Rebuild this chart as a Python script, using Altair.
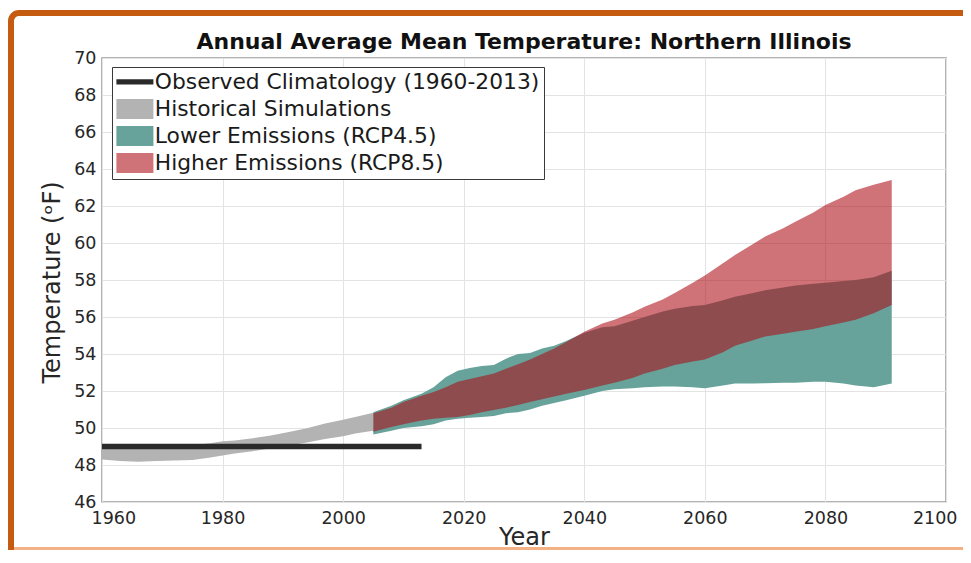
import altair as alt
import pandas as pd

# ---------------- data ----------------
title_text = "Annual Average Mean Temperature: Northern Illinois"
series_names = [
    "Observed Climatology (1960-2013)",
    "Historical Simulations",
    "Lower Emissions (RCP4.5)",
    "Higher Emissions (RCP8.5)",
]

obs_years = [1960, 2013]
obs_value = [49.0, 49.0]

hist_years = [1960, 1963, 1966, 1969, 1972, 1975, 1978, 1980, 1982, 1985,
              1988, 1991, 1994, 1997, 2000, 2002, 2005]
hist_lo = [48.30, 48.22, 48.18, 48.22, 48.25, 48.27, 48.40, 48.52, 48.62, 48.75,
           48.90, 49.05, 49.22, 49.40, 49.55, 49.70, 49.85]
hist_hi = [49.00, 48.98, 49.00, 49.02, 49.05, 49.08, 49.18, 49.28, 49.33, 49.45,
           49.60, 49.78, 49.98, 50.25, 50.45, 50.60, 50.82]

proj_years = [2005, 2008, 2010, 2013, 2015, 2017, 2019, 2021, 2023, 2025,
              2027, 2029, 2031, 2033, 2035, 2037, 2040, 2043, 2045, 2048,
              2050, 2053, 2055, 2058, 2060, 2063, 2065, 2068, 2070, 2073,
              2075, 2078, 2080, 2083, 2085, 2088, 2091]
rcp45_lo = [49.65, 49.85, 50.00, 50.10, 50.20, 50.40, 50.50, 50.55, 50.60, 50.65,
            50.80, 50.85, 51.00, 51.20, 51.35, 51.50, 51.75, 52.00, 52.10, 52.15,
            52.20, 52.25, 52.25, 52.20, 52.15, 52.30, 52.40, 52.40, 52.42, 52.45,
            52.45, 52.50, 52.50, 52.40, 52.30, 52.20, 52.40]
rcp45_hi = [50.85, 51.20, 51.50, 51.85, 52.20, 52.75, 53.10, 53.25, 53.35, 53.40,
            53.75, 54.00, 54.05, 54.30, 54.45, 54.70, 55.15, 55.45, 55.50, 55.80,
            56.00, 56.30, 56.45, 56.60, 56.65, 56.90, 57.10, 57.30, 57.45, 57.60,
            57.70, 57.80, 57.85, 57.95, 58.00, 58.15, 58.50]
rcp85_lo = [49.80, 50.05, 50.20, 50.40, 50.50, 50.55, 50.60, 50.70, 50.85, 50.97,
            51.10, 51.25, 51.40, 51.55, 51.70, 51.85, 52.05, 52.30, 52.45, 52.70,
            52.95, 53.20, 53.40, 53.60, 53.70, 54.10, 54.45, 54.75, 54.95, 55.10,
            55.20, 55.35, 55.50, 55.70, 55.85, 56.20, 56.65]
rcp85_hi = [50.80, 51.10, 51.40, 51.75, 51.95, 52.20, 52.50, 52.65, 52.80, 52.95,
            53.20, 53.45, 53.70, 54.00, 54.30, 54.65, 55.20, 55.65, 55.85, 56.25,
            56.55, 56.95, 57.30, 57.85, 58.25, 58.90, 59.35, 59.95, 60.35, 60.80,
            61.15, 61.65, 62.05, 62.50, 62.85, 63.15, 63.40]

x_ticks = [1960, 1980, 2000, 2020, 2040, 2060, 2080, 2100]
y_ticks = [46, 48, 50, 52, 54, 56, 58, 60, 62, 64, 66, 68, 70]

# ---------------- styles ----------------
FONT = "DejaVu Sans"
col_line = "#2a2a2a"
col_hist = "#b3b3b3"
col_rcp45 = "#67a39b"
col_rcp85 = "#ac0e16"
rcp85_alpha = 0.58

# ---------------- frames ----------------
obs_df = pd.DataFrame({"year": obs_years, "lo": obs_value,
                       "series": series_names[0]})
hist_df = pd.DataFrame({"year": hist_years, "lo": hist_lo, "hi": hist_hi,
                        "series": series_names[1]})
r45_df = pd.DataFrame({"year": proj_years, "lo": rcp45_lo, "hi": rcp45_hi,
                       "series": series_names[2]})
r85_df = pd.DataFrame({"year": proj_years, "lo": rcp85_lo, "hi": rcp85_hi,
                       "series": series_names[3]})

# legend symbol shapes / opacity (per entry)
rect_path = "M-1.85,-1H1.85V1H-1.85Z"
line_path = "M-1.85,-0.27H1.85V0.27H-1.85Z"
shape_expr = f"datum.value === '{series_names[0]}' ? '{line_path}' : '{rect_path}'"
opac_expr = f"datum.value === '{series_names[3]}' ? {rcp85_alpha} : 1"

legend = alt.Legend(
    title=None,
    orient="none",
    legendX=10,
    legendY=9,
    labelFont=FONT,
    labelFontSize=21.8,
    labelColor="#1a1a1a",
    labelLimit=0,
    labelOffset=9,
    symbolOffset=8,
    rowPadding=4,
    padding=4,
    strokeColor="#3a3a3a",
    fillColor="white",
    symbolType={"expr": shape_expr},
    symbolOpacity={"expr": opac_expr},
    symbolStrokeColor="transparent",
    symbolStrokeWidth=0,
    symbolSize=400,
)

color = alt.Color(
    "series:N",
    scale=alt.Scale(domain=series_names,
                    range=[col_line, col_hist, col_rcp45, col_rcp85]),
    legend=legend,
)

xenc = alt.X(
    "year:Q",
    scale=alt.Scale(domain=[1960, 2100], nice=False, zero=False),
    axis=alt.Axis(values=x_ticks, format="d", title="Year",
                  titleX=422, titleY=42, titleBaseline="alphabetic",
                  titleAnchor="middle", labelPadding=7,
                  labelFlush=True, labelFlushOffset=11),
)
yscale = alt.Scale(domain=[46, 70], nice=False, zero=False)
yaxis = alt.Axis(values=y_ticks, title="Temperature (ᵒF)",
                 titleX=-50, titleY=224, titleAngle=-90,
                 titleBaseline="middle", titleAlign="center",
                 labelPadding=6, labelFlush=False)

# decorative frame (orange border + light bottom rule)
deco_df = pd.DataFrame({"d": [0]})
frame = alt.Chart(deco_df).mark_rect(
    filled=False, stroke="#c55a11", strokeWidth=6, cornerRadius=8
).encode(x=alt.value(-91), x2=alt.value(1000), y=alt.value(-45), y2=alt.value(900))
bottom_rule = alt.Chart(deco_df).mark_rule(
    stroke="#f4b183", strokeWidth=3
).encode(x=alt.value(-88), x2=alt.value(1000), y=alt.value(490.5))

title_df = pd.DataFrame({"t": [title_text]})
title = alt.Chart(title_df).mark_text(
    font=FONT, fontSize=22, fontWeight="bold", color="#111111",
    align="center", baseline="alphabetic",
).encode(text="t:N", x=alt.value(422), y=alt.value(-9))

hist = alt.Chart(hist_df).mark_area(opacity=1).encode(
    x=xenc, y=alt.Y("lo:Q", scale=yscale, axis=yaxis), y2="hi:Q", color=color)
r45 = alt.Chart(r45_df).mark_area(opacity=1).encode(
    x=xenc, y=alt.Y("lo:Q", scale=yscale, axis=yaxis), y2="hi:Q", color=color)
r85 = alt.Chart(r85_df).mark_area(fillOpacity=rcp85_alpha).encode(
    x=xenc, y=alt.Y("lo:Q", scale=yscale, axis=yaxis), y2="hi:Q", color=color)
obs = alt.Chart(obs_df).mark_line(strokeWidth=5.5, strokeCap="butt").encode(
    x=xenc, y=alt.Y("lo:Q", scale=yscale, axis=yaxis), color=color)

chart = alt.layer(frame, bottom_rule, title, hist, r45, r85, obs).properties(
    width=844,
    height=444,
    padding={"left": 94, "top": 50, "right": 17, "bottom": 48},
    autosize=alt.AutoSizeParams(type="none"),
    background="white",
).configure_view(
    stroke="#9a9a9a", strokeWidth=1.5
).configure_axis(
    grid=True, gridColor="#e3e3e3", gridWidth=1,
    domain=False, ticks=False,
    labelFont=FONT, labelFontSize=17.5, labelColor="#262626",
    titleFont=FONT, titleFontSize=24, titleFontWeight="normal",
    titleColor="#262626",
)

chart.save("out.html", embed_options={"renderer": "svg", "actions": False})
